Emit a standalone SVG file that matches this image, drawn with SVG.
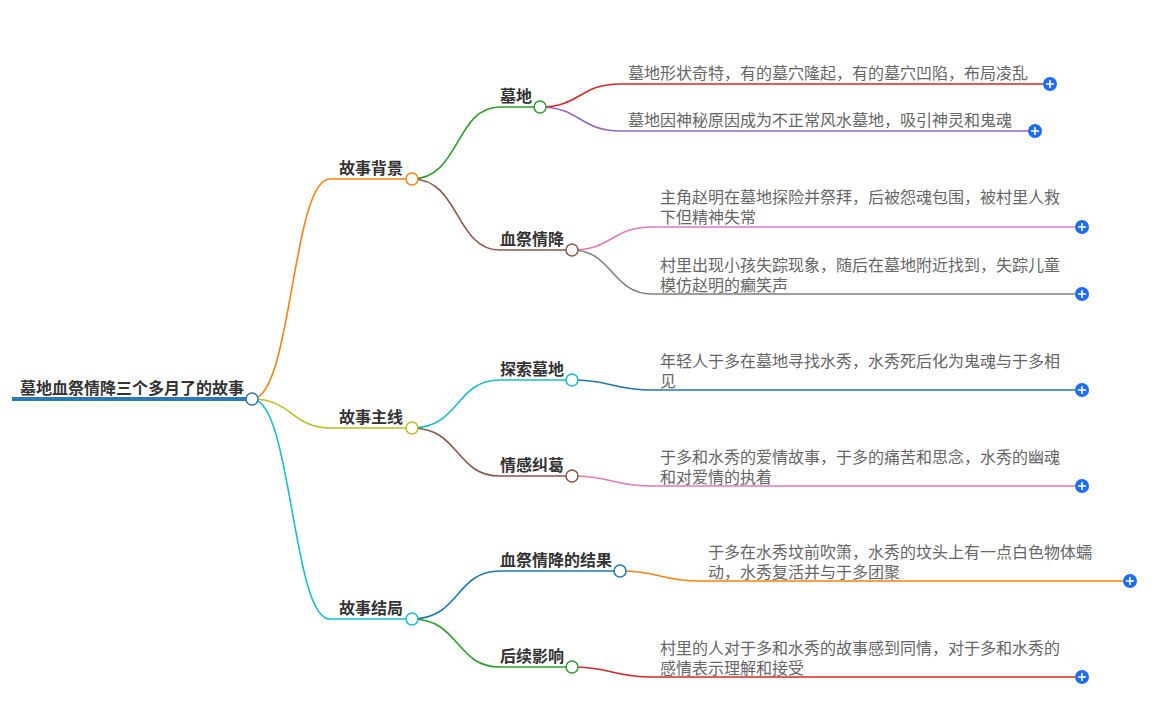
<svg xmlns="http://www.w3.org/2000/svg" width="1165" height="712" viewBox="0 0 1165 712">
<style>
.c{fill:none;stroke-width:1.6}
.n{fill:#fff;stroke-width:1.5}
.t1{font:bold 16px "Noto Sans CJK SC",sans-serif;fill:#333}
.t2{font:16px "Noto Sans CJK SC",sans-serif;fill:#666}
.p circle{fill:#1d6cf5}
.p path{stroke:#fff;stroke-width:1.6}
</style>
<rect width="1165" height="712" fill="#fff"/>
<g id="connectors">
<path d="M12 399H252" stroke="#2a7ab8" stroke-width="4"/>
<path class="c" stroke="#ff7f0e" d="M252 399C292 399 292 179 330 179H412"/>
<path class="c" stroke="#bcbd22" d="M252 399C292 399 292 428 330 428H412"/>
<path class="c" stroke="#17becf" d="M252 399C292 399 292 619 330 619H412"/>
<path class="c" stroke="#2ca02c" d="M412 179C460 179 455 107 500 107H540"/>
<path class="c" stroke="#8c564b" d="M412 179C460 179 455 250 500 250H572"/>
<path class="c" stroke="#17becf" d="M412 428C460 428 455 380 500 380H572"/>
<path class="c" stroke="#8c564b" d="M412 428C460 428 455 476 500 476H572"/>
<path class="c" stroke="#1f77b4" d="M412 619C460 619 455 571 500 571H620"/>
<path class="c" stroke="#2ca02c" d="M412 619C460 619 455 667 500 667H572"/>
<path class="c" stroke="#d62728" d="M540 107C580 107 580 84 620 84H1043"/>
<path class="c" stroke="#9467bd" d="M540 107C580 107 580 131 620 131H1028"/>
<path class="c" stroke="#e377c2" d="M572 250C612 250 612 227 652 227H1075"/>
<path class="c" stroke="#7f7f7f" d="M572 250C612 250 612 294 652 294H1075"/>
<path class="c" stroke="#1f77b4" d="M572 380C612 380 612 390 652 390H1075"/>
<path class="c" stroke="#e377c2" d="M572 476C612 476 612 486 652 486H1075"/>
<path class="c" stroke="#ff7f0e" d="M620 571C660 571 660 581 700 581H1123"/>
<path class="c" stroke="#d62728" d="M572 667C612 667 612 677 652 677H1075"/>
</g>
<g id="root"><text class="t1" x="20" y="394">墓地血祭情降三个多月了的故事</text><circle class="n" stroke="#2a7ab8" cx="252" cy="399" r="6"/></g>
<g id="n1"><text class="t1" x="339" y="174">故事背景</text><circle class="n" stroke="#ff7f0e" cx="412" cy="179" r="6"/></g>
<g id="n2"><text class="t1" x="339" y="423">故事主线</text><circle class="n" stroke="#bcbd22" cx="412" cy="428" r="6"/></g>
<g id="n3"><text class="t1" x="339" y="614">故事结局</text><circle class="n" stroke="#17becf" cx="412" cy="619" r="6"/></g>
<g id="n11"><text class="t1" x="500" y="102">墓地</text><circle class="n" stroke="#2ca02c" cx="540" cy="107" r="6"/></g>
<g id="n12"><text class="t1" x="500" y="245">血祭情降</text><circle class="n" stroke="#8c564b" cx="572" cy="250" r="6"/></g>
<g id="n21"><text class="t1" x="500" y="375">探索墓地</text><circle class="n" stroke="#17becf" cx="572" cy="380" r="6"/></g>
<g id="n22"><text class="t1" x="500" y="471">情感纠葛</text><circle class="n" stroke="#8c564b" cx="572" cy="476" r="6"/></g>
<g id="n31"><text class="t1" x="500" y="566">血祭情降的结果</text><circle class="n" stroke="#1f77b4" cx="620" cy="571" r="6"/></g>
<g id="n32"><text class="t1" x="500" y="662">后续影响</text><circle class="n" stroke="#2ca02c" cx="572" cy="667" r="6"/></g>
<g id="l1"><text class="t2" x="628" y="79">墓地形状奇特，有的墓穴隆起，有的墓穴凹陷，布局凌乱</text><g class="p"><circle cx="1050" cy="84" r="7"/><path d="M1046 84h8M1050 80v8"/></g></g>
<g id="l2"><text class="t2" x="628" y="126">墓地因神秘原因成为不正常风水墓地，吸引神灵和鬼魂</text><g class="p"><circle cx="1035" cy="131" r="7"/><path d="M1031 131h8M1035 127v8"/></g></g>
<g id="l3"><text class="t2" x="660" y="203">主角赵明在墓地探险并祭拜，后被怨魂包围，被村里人救</text><text class="t2" x="660" y="223">下但精神失常</text><g class="p"><circle cx="1082" cy="227" r="7"/><path d="M1078 227h8M1082 223v8"/></g></g>
<g id="l4"><text class="t2" x="660" y="271">村里出现小孩失踪现象，随后在墓地附近找到，失踪儿童</text><text class="t2" x="660" y="291">模仿赵明的癫笑声</text><g class="p"><circle cx="1082" cy="294" r="7"/><path d="M1078 294h8M1082 290v8"/></g></g>
<g id="l5"><text class="t2" x="660" y="367">年轻人于多在墓地寻找水秀，水秀死后化为鬼魂与于多相</text><text class="t2" x="660" y="387">见</text><g class="p"><circle cx="1082" cy="390" r="7"/><path d="M1078 390h8M1082 386v8"/></g></g>
<g id="l6"><text class="t2" x="660" y="463">于多和水秀的爱情故事，于多的痛苦和思念，水秀的幽魂</text><text class="t2" x="660" y="483">和对爱情的执着</text><g class="p"><circle cx="1082" cy="486" r="7"/><path d="M1078 486h8M1082 482v8"/></g></g>
<g id="l7"><text class="t2" x="708" y="558">于多在水秀坟前吹箫，水秀的坟头上有一点白色物体蠕</text><text class="t2" x="708" y="578">动，水秀复活并与于多团聚</text><g class="p"><circle cx="1130" cy="581" r="7"/><path d="M1126 581h8M1130 577v8"/></g></g>
<g id="l8"><text class="t2" x="660" y="654">村里的人对于多和水秀的故事感到同情，对于多和水秀的</text><text class="t2" x="660" y="674">感情表示理解和接受</text><g class="p"><circle cx="1082" cy="677" r="7"/><path d="M1078 677h8M1082 673v8"/></g></g>
</svg>
